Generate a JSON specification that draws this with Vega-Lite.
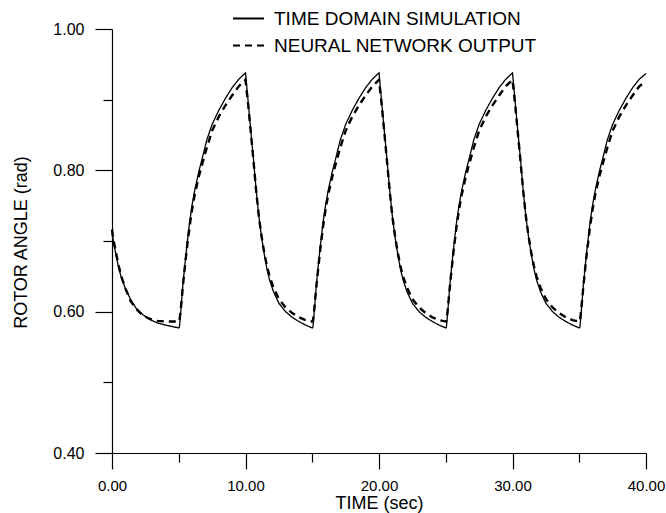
{
  "$schema": "https://vega.github.io/schema/vega-lite/v6.json",
  "width": 534,
  "height": 424,
  "autosize": {"type": "none"},
  "padding": {"left": 112, "top": 29, "right": 20, "bottom": 60},
  "background": "white",
  "config": {
    "view": {"stroke": null},
    "font": "Liberation Sans",
    "axis": {"grid": false, "domainColor": "black", "tickColor": "black", "labelColor": "black", "titleColor": "black", "domainWidth": 1.2, "tickWidth": 1.2, "labelFont": "Liberation Sans", "titleFont": "Liberation Sans", "titleFontWeight": "normal"}
  },
  "datasets": {
    "sim": [
      {"t":0,"v":0.712},{"t":0.1,"v":0.700},{"t":0.3,"v":0.680},{"t":0.5,"v":0.662},{"t":0.7,"v":0.648},{"t":1.0,"v":0.633},{"t":1.4,"v":0.617},{"t":1.8,"v":0.605},{"t":2.3,"v":0.596},{"t":2.8,"v":0.589},{"t":3.4,"v":0.584},{"t":4.0,"v":0.581},{"t":4.5,"v":0.579},{"t":5.0,"v":0.577},
      {"t":5.05,"v":0.578},{"t":5.15,"v":0.600},{"t":5.3,"v":0.636},{"t":5.45,"v":0.665},{"t":5.6,"v":0.692},{"t":5.8,"v":0.725},{"t":6.0,"v":0.751},{"t":6.2,"v":0.772},{"t":6.5,"v":0.798},{"t":6.8,"v":0.820},{"t":7.1,"v":0.843},{"t":7.5,"v":0.865},{"t":8.0,"v":0.885},{"t":8.5,"v":0.902},{"t":9.0,"v":0.917},{"t":9.5,"v":0.929},{"t":10.0,"v":0.938},
      {"t":10.2,"v":0.897},{"t":10.4,"v":0.855},{"t":10.6,"v":0.815},{"t":10.8,"v":0.772},{"t":11.0,"v":0.735},{"t":11.2,"v":0.706},{"t":11.4,"v":0.682},{"t":11.6,"v":0.661},{"t":11.8,"v":0.645},{"t":12.1,"v":0.628},{"t":12.5,"v":0.612},{"t":13.0,"v":0.600},{"t":13.5,"v":0.592},{"t":14.0,"v":0.586},{"t":14.5,"v":0.581},{"t":15.0,"v":0.577},
      {"t":15.05,"v":0.578},{"t":15.15,"v":0.600},{"t":15.3,"v":0.636},{"t":15.45,"v":0.665},{"t":15.6,"v":0.692},{"t":15.8,"v":0.725},{"t":16.0,"v":0.751},{"t":16.2,"v":0.772},{"t":16.5,"v":0.798},{"t":16.8,"v":0.820},{"t":17.1,"v":0.843},{"t":17.5,"v":0.865},{"t":18.0,"v":0.885},{"t":18.5,"v":0.902},{"t":19.0,"v":0.917},{"t":19.5,"v":0.929},{"t":20.0,"v":0.938},
      {"t":20.2,"v":0.897},{"t":20.4,"v":0.855},{"t":20.6,"v":0.815},{"t":20.8,"v":0.772},{"t":21.0,"v":0.735},{"t":21.2,"v":0.706},{"t":21.4,"v":0.682},{"t":21.6,"v":0.661},{"t":21.8,"v":0.645},{"t":22.1,"v":0.628},{"t":22.5,"v":0.612},{"t":23.0,"v":0.600},{"t":23.5,"v":0.592},{"t":24.0,"v":0.586},{"t":24.5,"v":0.581},{"t":25.0,"v":0.577},
      {"t":25.05,"v":0.578},{"t":25.15,"v":0.600},{"t":25.3,"v":0.636},{"t":25.45,"v":0.665},{"t":25.6,"v":0.692},{"t":25.8,"v":0.725},{"t":26.0,"v":0.751},{"t":26.2,"v":0.772},{"t":26.5,"v":0.798},{"t":26.8,"v":0.820},{"t":27.1,"v":0.843},{"t":27.5,"v":0.865},{"t":28.0,"v":0.885},{"t":28.5,"v":0.902},{"t":29.0,"v":0.917},{"t":29.5,"v":0.929},{"t":30.0,"v":0.938},
      {"t":30.2,"v":0.897},{"t":30.4,"v":0.855},{"t":30.6,"v":0.815},{"t":30.8,"v":0.772},{"t":31.0,"v":0.735},{"t":31.2,"v":0.706},{"t":31.4,"v":0.682},{"t":31.6,"v":0.661},{"t":31.8,"v":0.645},{"t":32.1,"v":0.628},{"t":32.5,"v":0.612},{"t":33.0,"v":0.600},{"t":33.5,"v":0.592},{"t":34.0,"v":0.586},{"t":34.5,"v":0.581},{"t":35.0,"v":0.577},
      {"t":35.05,"v":0.578},{"t":35.15,"v":0.600},{"t":35.3,"v":0.636},{"t":35.45,"v":0.665},{"t":35.6,"v":0.692},{"t":35.8,"v":0.725},{"t":36.0,"v":0.751},{"t":36.2,"v":0.772},{"t":36.5,"v":0.798},{"t":36.8,"v":0.820},{"t":37.1,"v":0.843},{"t":37.5,"v":0.865},{"t":38.0,"v":0.885},{"t":38.5,"v":0.902},{"t":39.0,"v":0.917},{"t":39.5,"v":0.929},{"t":40.0,"v":0.937}
    ],
    "nn": [
      {"t":0,"v":0.716},{"t":0.1,"v":0.703},{"t":0.3,"v":0.683},{"t":0.5,"v":0.665},{"t":0.7,"v":0.650},{"t":1.0,"v":0.633},{"t":1.4,"v":0.615},{"t":1.8,"v":0.604},{"t":2.3,"v":0.595},{"t":2.8,"v":0.590},{"t":3.4,"v":0.587},{"t":4.0,"v":0.586},{"t":4.5,"v":0.586},{"t":5.0,"v":0.586},
      {"t":5.05,"v":0.587},{"t":5.15,"v":0.603},{"t":5.3,"v":0.634},{"t":5.45,"v":0.662},{"t":5.6,"v":0.688},{"t":5.8,"v":0.719},{"t":6.0,"v":0.745},{"t":6.2,"v":0.766},{"t":6.5,"v":0.791},{"t":6.8,"v":0.812},{"t":7.1,"v":0.832},{"t":7.5,"v":0.856},{"t":8.0,"v":0.876},{"t":8.5,"v":0.892},{"t":9.0,"v":0.906},{"t":9.5,"v":0.919},{"t":10.0,"v":0.928},
      {"t":10.2,"v":0.893},{"t":10.4,"v":0.853},{"t":10.6,"v":0.813},{"t":10.8,"v":0.771},{"t":11.0,"v":0.735},{"t":11.2,"v":0.707},{"t":11.4,"v":0.684},{"t":11.6,"v":0.665},{"t":11.8,"v":0.650},{"t":12.1,"v":0.634},{"t":12.5,"v":0.618},{"t":13.0,"v":0.606},{"t":13.5,"v":0.598},{"t":14.0,"v":0.592},{"t":14.5,"v":0.588},{"t":15.0,"v":0.586},
      {"t":15.05,"v":0.587},{"t":15.15,"v":0.603},{"t":15.3,"v":0.634},{"t":15.45,"v":0.662},{"t":15.6,"v":0.688},{"t":15.8,"v":0.719},{"t":16.0,"v":0.745},{"t":16.2,"v":0.766},{"t":16.5,"v":0.791},{"t":16.8,"v":0.812},{"t":17.1,"v":0.832},{"t":17.5,"v":0.856},{"t":18.0,"v":0.876},{"t":18.5,"v":0.892},{"t":19.0,"v":0.906},{"t":19.5,"v":0.919},{"t":20.0,"v":0.928},
      {"t":20.2,"v":0.893},{"t":20.4,"v":0.853},{"t":20.6,"v":0.813},{"t":20.8,"v":0.771},{"t":21.0,"v":0.735},{"t":21.2,"v":0.707},{"t":21.4,"v":0.684},{"t":21.6,"v":0.665},{"t":21.8,"v":0.650},{"t":22.1,"v":0.634},{"t":22.5,"v":0.618},{"t":23.0,"v":0.606},{"t":23.5,"v":0.598},{"t":24.0,"v":0.592},{"t":24.5,"v":0.588},{"t":25.0,"v":0.586},
      {"t":25.05,"v":0.587},{"t":25.15,"v":0.603},{"t":25.3,"v":0.634},{"t":25.45,"v":0.662},{"t":25.6,"v":0.688},{"t":25.8,"v":0.719},{"t":26.0,"v":0.745},{"t":26.2,"v":0.766},{"t":26.5,"v":0.791},{"t":26.8,"v":0.812},{"t":27.1,"v":0.832},{"t":27.5,"v":0.856},{"t":28.0,"v":0.876},{"t":28.5,"v":0.892},{"t":29.0,"v":0.906},{"t":29.5,"v":0.919},{"t":30.0,"v":0.928},
      {"t":30.2,"v":0.893},{"t":30.4,"v":0.853},{"t":30.6,"v":0.813},{"t":30.8,"v":0.771},{"t":31.0,"v":0.735},{"t":31.2,"v":0.707},{"t":31.4,"v":0.684},{"t":31.6,"v":0.665},{"t":31.8,"v":0.650},{"t":32.1,"v":0.634},{"t":32.5,"v":0.618},{"t":33.0,"v":0.606},{"t":33.5,"v":0.598},{"t":34.0,"v":0.592},{"t":34.5,"v":0.588},{"t":35.0,"v":0.586},
      {"t":35.05,"v":0.587},{"t":35.15,"v":0.603},{"t":35.3,"v":0.634},{"t":35.45,"v":0.662},{"t":35.6,"v":0.688},{"t":35.8,"v":0.719},{"t":36.0,"v":0.745},{"t":36.2,"v":0.766},{"t":36.5,"v":0.791},{"t":36.8,"v":0.812},{"t":37.1,"v":0.832},{"t":37.5,"v":0.856},{"t":38.0,"v":0.876},{"t":38.5,"v":0.892},{"t":39.0,"v":0.906},{"t":39.5,"v":0.919},{"t":40.0,"v":0.926}
    ]
  },
  "resolve": {"axis": {"x": "independent", "y": "independent"}},
  "layer": [
    {
      "data": {"name": "sim"},
      "transform": [{"calculate": "'TIME DOMAIN SIMULATION'", "as": "series"}],
      "mark": {"type": "line", "color": "black", "strokeWidth": 1.3, "clip": false},
      "encoding": {
        "x": {"field": "t", "type": "quantitative", "scale": {"domain": [0, 40], "nice": false, "zero": false},
          "axis": {"orient": "bottom", "title": "TIME (sec)", "values": [0,10,20,30,40], "format": ".2f",
            "tickSize": 16, "labelFontSize": 15, "labelPadding": 9, "labelFlush": false, "labelOverlap": false,
            "titleFontSize": 18, "titleBaseline": "alphabetic", "titleY": 55}},
        "y": {"field": "v", "type": "quantitative", "scale": {"domain": [0.4, 1.0], "nice": false, "zero": false},
          "axis": {"orient": "left", "title": "ROTOR ANGLE (rad)", "values": [0.4,0.6,0.8,1.0], "format": ".2f",
            "tickSize": 17, "labelFontSize": 16, "labelPadding": 11, "labelOverlap": false, "labelFlush": false,
            "titleFontSize": 18, "titleAngle": 270, "titleBaseline": "middle", "titleAlign": "center", "titleX": -91, "titleY": 213}},
        "strokeDash": {"field": "series", "type": "nominal",
          "scale": {"domain": ["TIME DOMAIN SIMULATION", "NEURAL NETWORK OUTPUT"], "range": [[1, 0], [7, 5]]},
          "legend": {"title": null, "orient": "none", "legendX": 120, "legendY": -27, "symbolType": "stroke", "symbolSize": 961, "symbolStrokeWidth": 1.8, "symbolStrokeColor": "black", "labelFontSize": 19, "labelColor": "black", "labelFont": "Liberation Sans", "labelOffset": 9, "labelLimit": 500, "rowPadding": -4, "padding": 0}}
      }
    },
    {
      "data": {"name": "nn"},
      "transform": [{"calculate": "'NEURAL NETWORK OUTPUT'", "as": "series"}],
      "mark": {"type": "line", "color": "black", "strokeWidth": 2.4, "clip": false},
      "encoding": {
        "x": {"field": "t", "type": "quantitative",
          "axis": {"orient": "bottom", "title": null, "values": [5,15,25,35], "labels": false, "domain": false, "tickSize": 9}},
        "y": {"field": "v", "type": "quantitative",
          "axis": {"orient": "left", "title": null, "values": [0.5,0.7,0.9], "labels": false, "domain": false, "tickSize": 9}},
        "strokeDash": {"field": "series", "type": "nominal"}
      }
    }
  ]
}
